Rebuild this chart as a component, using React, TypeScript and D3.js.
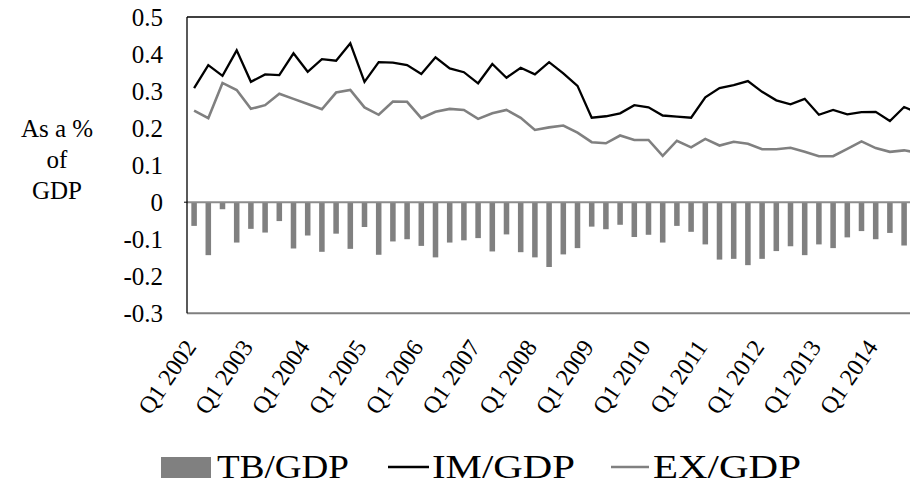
import React from "react";
import * as d3 from "d3";

const quarters: string[] = [
  "Q1 2002","Q2 2002","Q3 2002","Q4 2002",
  "Q1 2003","Q2 2003","Q3 2003","Q4 2003",
  "Q1 2004","Q2 2004","Q3 2004","Q4 2004",
  "Q1 2005","Q2 2005","Q3 2005","Q4 2005",
  "Q1 2006","Q2 2006","Q3 2006","Q4 2006",
  "Q1 2007","Q2 2007","Q3 2007","Q4 2007",
  "Q1 2008","Q2 2008","Q3 2008","Q4 2008",
  "Q1 2009","Q2 2009","Q3 2009","Q4 2009",
  "Q1 2010","Q2 2010","Q3 2010","Q4 2010",
  "Q1 2011","Q2 2011","Q3 2011","Q4 2011",
  "Q1 2012","Q2 2012","Q3 2012","Q4 2012",
  "Q1 2013","Q2 2013","Q3 2013","Q4 2013",
  "Q1 2014","Q2 2014","Q3 2014","Q4 2014",
];

const tickLabels: string[] = [
  "Q1 2002","Q1 2003","Q1 2004","Q1 2005","Q1 2006","Q1 2007","Q1 2008",
  "Q1 2009","Q1 2010","Q1 2011","Q1 2012","Q1 2013","Q1 2014",
];

const tbGdp: number[] = [
  -0.064, -0.143, -0.019, -0.109, -0.072, -0.082, -0.051, -0.125,
  -0.090, -0.134, -0.085, -0.126, -0.067, -0.142, -0.106, -0.100,
  -0.118, -0.149, -0.109, -0.103, -0.097, -0.133, -0.087, -0.135,
  -0.149, -0.175, -0.141, -0.124, -0.066, -0.073, -0.061, -0.094,
  -0.088, -0.109, -0.064, -0.080, -0.114, -0.155, -0.153, -0.170,
  -0.153, -0.132, -0.119, -0.143, -0.114, -0.124, -0.095, -0.078,
  -0.100, -0.083, -0.117, -0.108,
];

const imGdp: number[] = [
  0.308, 0.370, 0.341, 0.410, 0.325, 0.345, 0.343, 0.402,
  0.352, 0.386, 0.382, 0.429, 0.325, 0.378, 0.377, 0.370,
  0.346, 0.391, 0.361, 0.351, 0.321, 0.373, 0.336, 0.363,
  0.345, 0.378, 0.348, 0.314, 0.228, 0.232, 0.240, 0.262,
  0.256, 0.234, 0.231, 0.228, 0.283, 0.308, 0.316, 0.327,
  0.298, 0.275, 0.264, 0.279, 0.236, 0.249, 0.237, 0.243,
  0.244, 0.219, 0.257, 0.241,
];

const exGdp: number[] = [
  0.247, 0.227, 0.322, 0.303, 0.252, 0.262, 0.293, 0.279,
  0.265, 0.251, 0.296, 0.303, 0.256, 0.236, 0.272, 0.271,
  0.227, 0.244, 0.252, 0.249, 0.225, 0.240, 0.249, 0.228,
  0.195, 0.202, 0.207, 0.188, 0.162, 0.159, 0.180, 0.168,
  0.168, 0.125, 0.166, 0.148, 0.171, 0.153, 0.163, 0.158,
  0.143, 0.143, 0.147, 0.136, 0.124, 0.124, 0.144, 0.164,
  0.146, 0.136, 0.140, 0.133,
];

const yTicks: number[] = [0.5, 0.4, 0.3, 0.2, 0.1, 0, -0.1, -0.2, -0.3];
const yTickLabels: string[] = ["0.5", "0.4", "0.3", "0.2", "0.1", "0", "-0.1", "-0.2", "-0.3"];

const W = 910;
const H = 486;
const FONT = "'Liberation Serif', 'Times New Roman', serif";

export default function App() {
  const left = 187;
  const top = 17;
  const bottom = 313.3;
  const step = 14.2;
  const right = left + quarters.length * step;

  const x = d3.scaleBand<string>().domain(quarters).range([left, right]).padding(0);
  const y = d3.scaleLinear().domain([-0.3, 0.5]).range([bottom, top]);
  const cx = (q: string) => (x(q) as number) + x.bandwidth() / 2;
  const barW = x.bandwidth() * 0.39;

  const line = d3
    .line<number>()
    .x((_, i) => cx(quarters[i]))
    .y((d) => y(d));

  const yAxisLabel = ["As a %", "of", "GDP"];

  return (
    <svg
      width={W}
      height={H}
      style={{ position: "absolute", left: 0, top: 0, background: "#fff" }}
      fontFamily={FONT}
    >
      <rect x={0} y={0} width={W} height={H} fill="#fff" />
      {/* bars */}
      {tbGdp.map((v, i) => (
        <rect
          key={"b" + i}
          x={cx(quarters[i]) - barW / 2}
          y={y(Math.max(0, v))}
          width={barW}
          height={Math.abs(y(v) - y(0))}
          fill="#808080"
        />
      ))}
      {/* zero line */}
      <line x1={left} x2={right} y1={y(0)} y2={y(0)} stroke="#8c8c8c" strokeWidth={2} />
      <line x1={left - 3} x2={left} y1={y(0)} y2={y(0)} stroke="#000" strokeWidth={1} />
      {/* frame */}
      <line x1={left} x2={right} y1={top} y2={top} stroke="#000" strokeWidth={1.3} />
      <line x1={left} x2={right} y1={bottom} y2={bottom} stroke="#7f7f7f" strokeWidth={2} />
      <line x1={left} x2={left} y1={top} y2={bottom} stroke="#000" strokeWidth={1.3} />
      {/* lines */}
      <path d={line(exGdp) || ""} fill="none" stroke="#808080" strokeWidth={2.6} strokeLinejoin="miter" />
      <path d={line(imGdp) || ""} fill="none" stroke="#000" strokeWidth={2.3} strokeLinejoin="miter" />
      {/* y tick labels */}
      {yTicks.map((t, i) => (
        <text
          key={"y" + t}
          x={163}
          y={y(t)}
          dy="0.35em"
          textAnchor="end"
          fontSize={25}
          fill="#000"
        >
          {yTickLabels[i]}
        </text>
      ))}
      {/* y axis title */}
      {yAxisLabel.map((s, i) => (
        <text key={"t" + i} x={57} y={137 + i * 31} textAnchor="middle" fontSize={25} fill="#000">
          {s}
        </text>
      ))}
      {/* x tick labels */}
      {tickLabels.map((t) => (
        <text
          key={"x" + t}
          transform={`translate(${cx(t) + 3},${347}) rotate(-56)`}
          textAnchor="end"
          fontSize={24}
          fill="#000"
        >
          {t}
        </text>
      ))}
      {/* legend */}
      <rect x={161} y={457} width={50} height={21} fill="#808080" />
      <text x={217} y={478} fontSize={34} fill="#000" textLength={132} lengthAdjust="spacingAndGlyphs">TB/GDP</text>
      <line x1={388} x2={429} y1={467} y2={467} stroke="#000" strokeWidth={2.3} />
      <text x={432} y={478} fontSize={34} fill="#000" textLength={143} lengthAdjust="spacingAndGlyphs">IM/GDP</text>
      <line x1={611} x2={649} y1={467} y2={467} stroke="#808080" strokeWidth={2.6} />
      <text x={653} y={478} fontSize={34} fill="#000" textLength={148} lengthAdjust="spacingAndGlyphs">EX/GDP</text>
    </svg>
  );
}
